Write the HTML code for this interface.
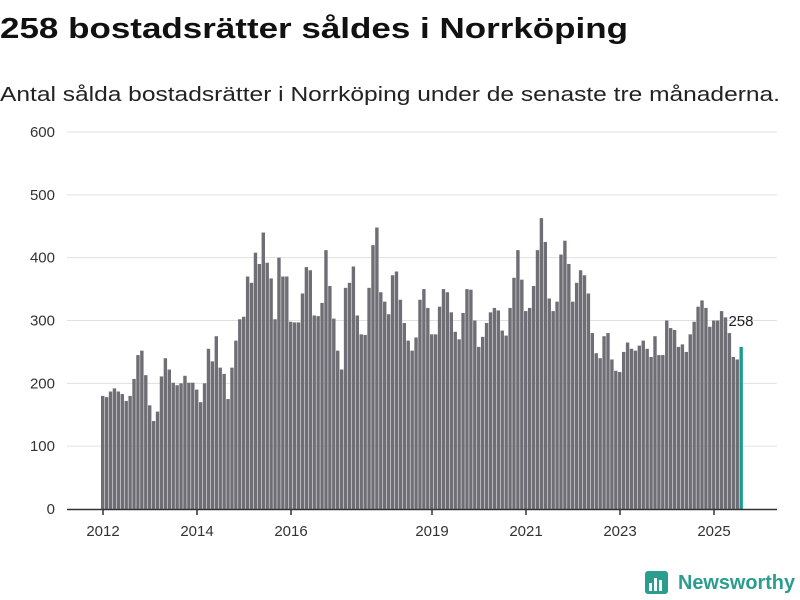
<!DOCTYPE html>
<html><head><meta charset="utf-8"><style>
body{margin:0;background:#fff;}
svg{display:block;font-family:"Liberation Sans",sans-serif;}
</style></head><body>
<svg id="chart" width="800" height="600" viewBox="0 0 800 600">
<text x="0" y="38" font-size="29" font-weight="bold" fill="#111" textLength="628" lengthAdjust="spacingAndGlyphs">258 bostadsrätter såldes i Norrköping</text>
<text x="0" y="101" font-size="20" fill="#222" textLength="780" lengthAdjust="spacingAndGlyphs">Antal sålda bostadsrätter i Norrköping under de senaste tre månaderna.</text>
<g id="grid"></g><g id="bars"></g><g id="axes"></g>
<g>
<rect x="645" y="571" width="23" height="23" rx="3" fill="#2a9d8f"/>
<rect x="649" y="583" width="3" height="8" fill="#fff"/><rect x="654" y="578" width="3" height="13" fill="#fff"/><rect x="659" y="580" width="3" height="11" fill="#fff"/>
<text x="678" y="589" font-size="20" font-weight="bold" fill="#2a9d8f" textLength="117" lengthAdjust="spacingAndGlyphs">Newsworthy</text>
</g>
</svg>
<script>
const years=[2012,2014,2016,2019,2021,2023,2025];
const yTicks=[0,100,200,300,400,500,600];
const values=[
180,178,187,192,187,183,172,180,207,245,252,213,
165,140,155,211,240,222,201,197,200,212,201,201,
190,170,200,255,235,275,225,215,175,225,268,302,
306,370,360,408,390,440,392,367,302,400,370,370,
298,297,297,343,385,380,308,307,328,412,355,303,
252,222,352,360,386,308,278,277,352,420,448,345,
330,310,372,378,333,296,268,252,273,333,350,320,
278,278,322,350,345,313,282,270,312,350,349,300,
258,274,296,313,320,316,284,276,320,368,412,365,
315,320,355,412,463,425,335,315,330,405,427,390,
330,360,380,372,343,280,248,240,275,280,238,220,
218,250,265,255,252,260,268,255,242,275,245,245,
300,288,285,258,262,250,278,298,322,332,320,290,
300,300,315,305,280,242,238,258];
const startYear=2012;
const NS='http://www.w3.org/2000/svg';
const y=v=>509-v*0.6283;
const x=i=>101+i*3.917;
const xYear=yr=>103+(yr-startYear)*47;
function mk(t,a,p){const e=document.createElementNS(NS,t);for(const k in a)e.setAttribute(k,a[k]);p.appendChild(e);return e;}
const grid=document.getElementById('grid'),bars=document.getElementById('bars'),axes=document.getElementById('axes');
yTicks.forEach(v=>{
 if(v>0){const l=mk('line',{x1:67,x2:777,y1:y(v),y2:y(v),stroke:'#e0e0e0','stroke-width':1},grid);
 
 }
 const t=mk('text',{x:55,y:y(v)+5,'text-anchor':'end','font-size':15,fill:'#333'},axes);t.textContent=v;
 
 
});
values.forEach((v,i)=>{
 const last=i===values.length-1;
 const r=mk('rect',{x:x(i),y:y(v),width:3.4,height:509-y(v),fill:last?'#1a9e8f':'#6f6e75'},bars);
 
 
 if(last){const t=mk('text',{x:x(i)-11,y:y(v)-21,'font-size':15,fill:'#222'},axes);t.textContent=v;
 
 }
});
const ax=mk('line',{x1:67,x2:777,y1:509.5,y2:509.5,stroke:'#333','stroke-width':1.5},axes);


years.forEach(yr=>{
 const xx=xYear(yr);
 const tk=mk('line',{x1:xx,x2:xx,y1:509,y2:515,stroke:'#333','stroke-width':1.5},axes);
 
 
 const t=mk('text',{x:xx,y:536,'text-anchor':'middle','font-size':15,fill:'#333'},axes);t.textContent=yr;
 
 
});
</script>
</body></html>
